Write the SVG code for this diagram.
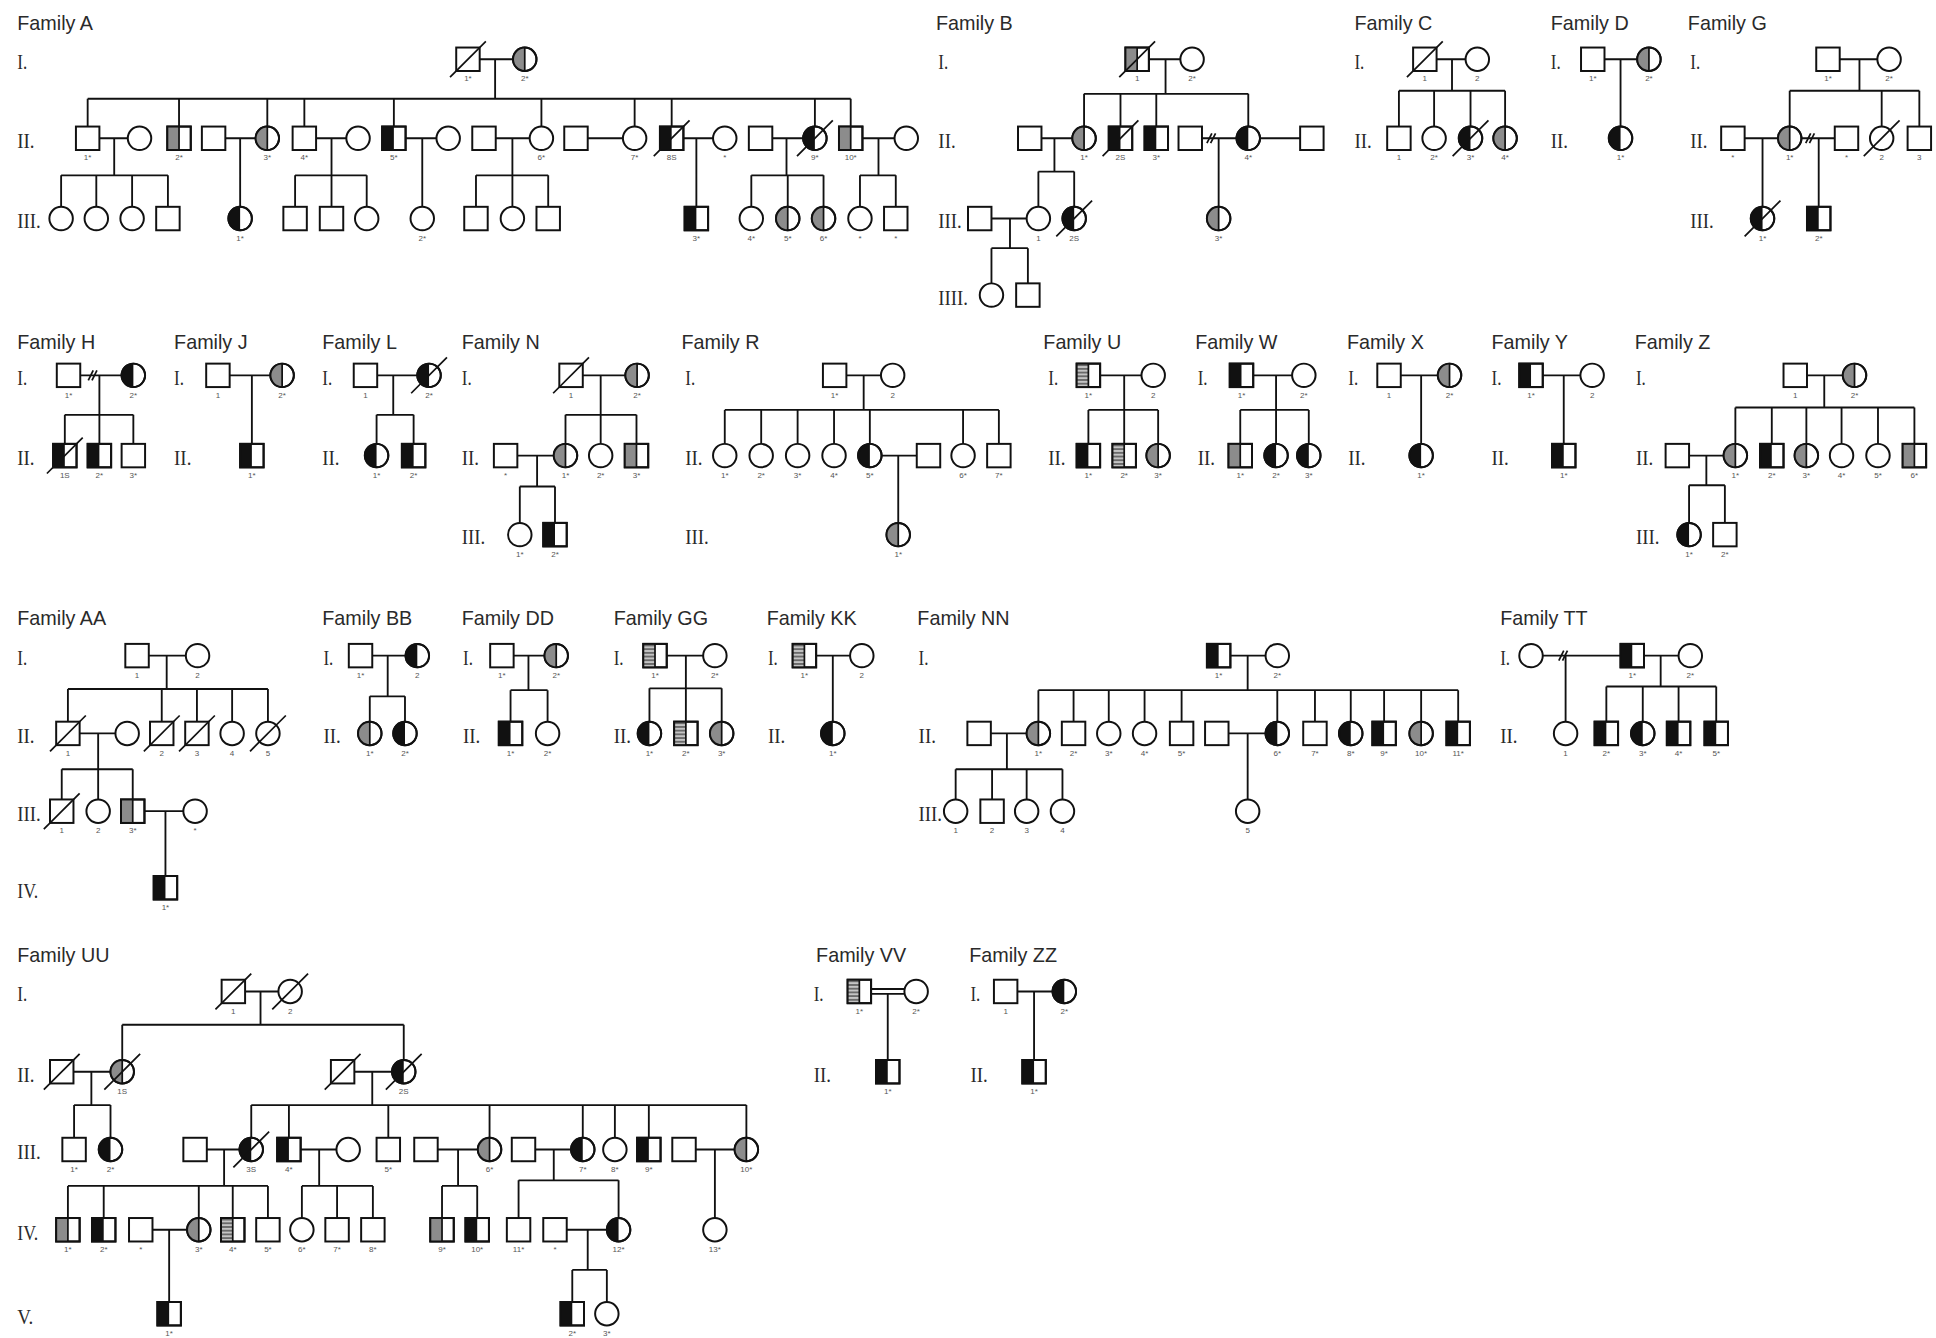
<svg xmlns="http://www.w3.org/2000/svg" xmlns:xlink="http://www.w3.org/1999/xlink" width="1936" height="1338" viewBox="0 0 1936 1338">
<style>
.o{fill:#fff;stroke:#111;stroke-width:1.6}
.f{fill:none;stroke:#111;stroke-width:1.6}
.k{fill:#111}
.g{fill:#8c8c8c}
.s{fill:url(#st)}
.c{fill:none;stroke:#111;stroke-width:1.5}
.d{stroke:#111;stroke-width:1.4;fill:none}
.t{font-family:"Liberation Sans",Arial,sans-serif;font-size:16px;fill:#2a2a2a}
.r{font-family:"Liberation Serif","Times New Roman",serif;font-size:17px;fill:#2a2a2a}
.n{font-family:"Liberation Sans",Arial,sans-serif;font-size:6.5px;fill:#555;text-anchor:middle}
</style>
<defs>
<pattern id="st" width="4" height="3" patternUnits="userSpaceOnUse"><rect width="4" height="3" fill="#c4c4c4"/><rect width="4" height="1.5" fill="#6a6a6a"/></pattern>
<g id="sW"><rect x="-9.5" y="-9.5" width="19" height="19" class="o"/></g>
<g id="sB"><rect x="-9.5" y="-9.5" width="19" height="19" class="o"/><rect x="-9.5" y="-9.5" width="9.5" height="19" class="k"/><rect x="-9.5" y="-9.5" width="19" height="19" class="f"/></g>
<g id="sG"><rect x="-9.5" y="-9.5" width="19" height="19" class="o"/><rect x="-9.5" y="-9.5" width="9.5" height="19" class="g"/><line x1="0" y1="-9.5" x2="0" y2="9.5" class="d"/><rect x="-9.5" y="-9.5" width="19" height="19" class="f"/></g>
<g id="sS"><rect x="-9.5" y="-9.5" width="19" height="19" class="o"/><rect x="-9.5" y="-9.5" width="9.5" height="19" class="s"/><line x1="0" y1="-9.5" x2="0" y2="9.5" class="d"/><rect x="-9.5" y="-9.5" width="19" height="19" class="f"/></g>
<g id="cW"><circle r="9.5" class="o"/></g>
<g id="cB"><circle r="9.5" class="o"/><path d="M0,-9.5A9.5,9.5 0 0 0 0,9.5Z" class="k"/><circle r="9.5" class="f"/></g>
<g id="cG"><circle r="9.5" class="o"/><path d="M0,-9.5A9.5,9.5 0 0 0 0,9.5Z" class="g"/><line x1="0" y1="-9.5" x2="0" y2="9.5" class="d"/><circle r="9.5" class="f"/></g>
<line id="x" x1="-14.5" y1="14.5" x2="14.5" y2="-14.5" class="d"/>
<g id="dv"><line x1="-3.5" y1="4" x2="0.5" y2="-4" class="d"/><line x1="-0.5" y1="4" x2="3.5" y2="-4" class="d"/></g>
</defs>
<rect width="1936" height="1338" fill="#fff"/>
<g transform="scale(1.2347)">
<g id="titles">
<text class="t" x="14" y="24">Family A</text>
<text class="t" x="758" y="24">Family B</text>
<text class="t" x="1097" y="24">Family C</text>
<text class="t" x="1256" y="24">Family D</text>
<text class="t" x="1367" y="24">Family G</text>
<text class="t" x="14" y="283">Family H</text>
<text class="t" x="141" y="283">Family J</text>
<text class="t" x="261" y="283">Family L</text>
<text class="t" x="374" y="283">Family N</text>
<text class="t" x="552" y="283">Family R</text>
<text class="t" x="845" y="283">Family U</text>
<text class="t" x="968" y="283">Family W</text>
<text class="t" x="1091" y="283">Family X</text>
<text class="t" x="1208" y="283">Family Y</text>
<text class="t" x="1324" y="283">Family Z</text>
<text class="t" x="14" y="506">Family AA</text>
<text class="t" x="261" y="506">Family BB</text>
<text class="t" x="374" y="506">Family DD</text>
<text class="t" x="497" y="506">Family GG</text>
<text class="t" x="621" y="506">Family KK</text>
<text class="t" x="743" y="506">Family NN</text>
<text class="t" x="1215" y="506">Family TT</text>
<text class="t" x="14" y="779">Family UU</text>
<text class="t" x="661" y="779">Family VV</text>
<text class="t" x="785" y="779">Family ZZ</text>
</g>
<g id="generations">
<text class="r" x="14" y="56" textLength="8" lengthAdjust="spacingAndGlyphs">I.</text>
<text class="r" x="14" y="120" textLength="14" lengthAdjust="spacingAndGlyphs">II.</text>
<text class="r" x="14" y="185" textLength="19" lengthAdjust="spacingAndGlyphs">III.</text>
<text class="r" x="760" y="56" textLength="8" lengthAdjust="spacingAndGlyphs">I.</text>
<text class="r" x="760" y="120" textLength="14" lengthAdjust="spacingAndGlyphs">II.</text>
<text class="r" x="760" y="185" textLength="19" lengthAdjust="spacingAndGlyphs">III.</text>
<text class="r" x="760" y="247" textLength="24" lengthAdjust="spacingAndGlyphs">IIII.</text>
<text class="r" x="1097" y="56" textLength="8" lengthAdjust="spacingAndGlyphs">I.</text>
<text class="r" x="1097" y="120" textLength="14" lengthAdjust="spacingAndGlyphs">II.</text>
<text class="r" x="1256" y="56" textLength="8" lengthAdjust="spacingAndGlyphs">I.</text>
<text class="r" x="1256" y="120" textLength="14" lengthAdjust="spacingAndGlyphs">II.</text>
<text class="r" x="1369" y="56" textLength="8" lengthAdjust="spacingAndGlyphs">I.</text>
<text class="r" x="1369" y="120" textLength="14" lengthAdjust="spacingAndGlyphs">II.</text>
<text class="r" x="1369" y="185" textLength="19" lengthAdjust="spacingAndGlyphs">III.</text>
<text class="r" x="14" y="312" textLength="8" lengthAdjust="spacingAndGlyphs">I.</text>
<text class="r" x="14" y="377" textLength="14" lengthAdjust="spacingAndGlyphs">II.</text>
<text class="r" x="141" y="312" textLength="8" lengthAdjust="spacingAndGlyphs">I.</text>
<text class="r" x="141" y="377" textLength="14" lengthAdjust="spacingAndGlyphs">II.</text>
<text class="r" x="261" y="312" textLength="8" lengthAdjust="spacingAndGlyphs">I.</text>
<text class="r" x="261" y="377" textLength="14" lengthAdjust="spacingAndGlyphs">II.</text>
<text class="r" x="374" y="312" textLength="8" lengthAdjust="spacingAndGlyphs">I.</text>
<text class="r" x="374" y="377" textLength="14" lengthAdjust="spacingAndGlyphs">II.</text>
<text class="r" x="374" y="441" textLength="19" lengthAdjust="spacingAndGlyphs">III.</text>
<text class="r" x="555" y="312" textLength="8" lengthAdjust="spacingAndGlyphs">I.</text>
<text class="r" x="555" y="377" textLength="14" lengthAdjust="spacingAndGlyphs">II.</text>
<text class="r" x="555" y="441" textLength="19" lengthAdjust="spacingAndGlyphs">III.</text>
<text class="r" x="849" y="312" textLength="8" lengthAdjust="spacingAndGlyphs">I.</text>
<text class="r" x="849" y="377" textLength="14" lengthAdjust="spacingAndGlyphs">II.</text>
<text class="r" x="970" y="312" textLength="8" lengthAdjust="spacingAndGlyphs">I.</text>
<text class="r" x="970" y="377" textLength="14" lengthAdjust="spacingAndGlyphs">II.</text>
<text class="r" x="1092" y="312" textLength="8" lengthAdjust="spacingAndGlyphs">I.</text>
<text class="r" x="1092" y="377" textLength="14" lengthAdjust="spacingAndGlyphs">II.</text>
<text class="r" x="1208" y="312" textLength="8" lengthAdjust="spacingAndGlyphs">I.</text>
<text class="r" x="1208" y="377" textLength="14" lengthAdjust="spacingAndGlyphs">II.</text>
<text class="r" x="1325" y="312" textLength="8" lengthAdjust="spacingAndGlyphs">I.</text>
<text class="r" x="1325" y="377" textLength="14" lengthAdjust="spacingAndGlyphs">II.</text>
<text class="r" x="1325" y="441" textLength="19" lengthAdjust="spacingAndGlyphs">III.</text>
<text class="r" x="14" y="539" textLength="8" lengthAdjust="spacingAndGlyphs">I.</text>
<text class="r" x="14" y="602" textLength="14" lengthAdjust="spacingAndGlyphs">II.</text>
<text class="r" x="14" y="665" textLength="19" lengthAdjust="spacingAndGlyphs">III.</text>
<text class="r" x="14" y="727" textLength="17" lengthAdjust="spacingAndGlyphs">IV.</text>
<text class="r" x="262" y="539" textLength="8" lengthAdjust="spacingAndGlyphs">I.</text>
<text class="r" x="262" y="602" textLength="14" lengthAdjust="spacingAndGlyphs">II.</text>
<text class="r" x="375" y="539" textLength="8" lengthAdjust="spacingAndGlyphs">I.</text>
<text class="r" x="375" y="602" textLength="14" lengthAdjust="spacingAndGlyphs">II.</text>
<text class="r" x="497" y="539" textLength="8" lengthAdjust="spacingAndGlyphs">I.</text>
<text class="r" x="497" y="602" textLength="14" lengthAdjust="spacingAndGlyphs">II.</text>
<text class="r" x="622" y="539" textLength="8" lengthAdjust="spacingAndGlyphs">I.</text>
<text class="r" x="622" y="602" textLength="14" lengthAdjust="spacingAndGlyphs">II.</text>
<text class="r" x="744" y="539" textLength="8" lengthAdjust="spacingAndGlyphs">I.</text>
<text class="r" x="744" y="602" textLength="14" lengthAdjust="spacingAndGlyphs">II.</text>
<text class="r" x="744" y="665" textLength="19" lengthAdjust="spacingAndGlyphs">III.</text>
<text class="r" x="1215" y="539" textLength="8" lengthAdjust="spacingAndGlyphs">I.</text>
<text class="r" x="1215" y="602" textLength="14" lengthAdjust="spacingAndGlyphs">II.</text>
<text class="r" x="14" y="811" textLength="8" lengthAdjust="spacingAndGlyphs">I.</text>
<text class="r" x="14" y="876" textLength="14" lengthAdjust="spacingAndGlyphs">II.</text>
<text class="r" x="14" y="939" textLength="19" lengthAdjust="spacingAndGlyphs">III.</text>
<text class="r" x="14" y="1004" textLength="17" lengthAdjust="spacingAndGlyphs">IV.</text>
<text class="r" x="14" y="1072" textLength="13" lengthAdjust="spacingAndGlyphs">V.</text>
<text class="r" x="659" y="811" textLength="8" lengthAdjust="spacingAndGlyphs">I.</text>
<text class="r" x="659" y="876" textLength="14" lengthAdjust="spacingAndGlyphs">II.</text>
<text class="r" x="786" y="811" textLength="8" lengthAdjust="spacingAndGlyphs">I.</text>
<text class="r" x="786" y="876" textLength="14" lengthAdjust="spacingAndGlyphs">II.</text>
</g>
<g id="connectors">
<path class="c" d="M388.5,48H415.5M401,48V80M71,80H689M71,80V102.5M145,80V102.5M216.5,80V102.5M246.5,80V102.5M319,80V102.5M438.5,80V102.5M514,80V102.5M544,80V102.5M660,80V102.5M689,80V102.5M80.5,112H103.5M92.5,112V142M49.5,142H136M49.5,142V167.5M78,142V167.5M107,142V167.5M136,142V167.5M182.5,112H207M194.5,112V167.5M256,112H280.5M268.5,112V142M239,142H297M239,142V167.5M268.5,142V167.5M297,142V167.5M328.5,112H353.5M342,112V167.5M401.5,112H429M415,112V142M385.5,142H444M385.5,142V167.5M415,142V167.5M444,142V167.5M476,112H504.5M553.5,112H577.5M564,112V167.5M625.5,112H650.5M637,112V142M608.5,142H667M608.5,142V167.5M638,142V167.5M667,142V167.5M698.5,112H724.5M711.5,112V142M696.5,142H725.5M696.5,142V167.5M725.5,142V167.5"/>
<path class="c" d="M930.5,48H956M944,48V76M878,76H1011M878,76V102.5M907.5,76V102.5M936.5,76V102.5M1011,76V102.5M843.5,112H868.5M854,112V139M841,139H870M841,139V167.5M870,139V167.5M973.5,112H1001.5M987,112V167.5M1020.5,112H1053M803,177H831.5M818,177V201M803,201H832.5M803,201V229.5M832.5,201V229.5"/>
<path class="c" d="M1163.5,48H1187M1176,48V73.5M1133,73.5H1219M1133,73.5V102.5M1161.5,73.5V102.5M1191,73.5V102.5M1219,73.5V102.5"/>
<path class="c" d="M1299.5,48H1326M1312.5,48V102.5"/>
<path class="c" d="M1490,48H1520.5M1506,48V73.5M1449.5,73.5H1554.5M1449.5,73.5V102.5M1524,73.5V102.5M1554.5,73.5V102.5M1413,112H1440M1427.5,112V167.5M1459,112H1486M1473,112V167.5"/>
<path class="c" d="M65,304H98.5M80.5,304V359.5M52.5,336H108M52.5,336V359.5M108,336V359.5"/>
<path class="c" d="M186,304H219M204,304V359.5"/>
<path class="c" d="M305.5,304H338M318.5,304V336M305,336H335M305,336V359.5M335,336V359.5"/>
<path class="c" d="M472,304H506.5M486.5,304V336M458,336H515.5M458,336V359.5M486.5,336V359.5M515.5,336V359.5M419,369H448.5M435,369V394M421,394H449.5M421,394V423.5M449.5,394V423.5"/>
<path class="c" d="M685.5,304H713.5M699.5,304V332M587,332H809M587,332V359.5M616.5,332V359.5M646,332V359.5M675.5,332V359.5M704.5,332V359.5M780,332V359.5M809,332V359.5M714,369H742.5M727.5,369V423.5"/>
<path class="c" d="M891,304H924.5M910.5,304V359.5M881.5,332H938M881.5,332V359.5M938,332V359.5"/>
<path class="c" d="M1015,304H1046.5M1033.5,304V359.5M1004.5,332H1060M1004.5,332V359.5M1060,332V359.5"/>
<path class="c" d="M1134.5,304H1164.5M1151,304V359.5"/>
<path class="c" d="M1249.5,304H1280M1266.5,304V359.5"/>
<path class="c" d="M1463.5,304H1492.5M1477.5,304V330M1405.5,330H1550.5M1405.5,330V359.5M1435,330V359.5M1463,330V359.5M1491.5,330V359.5M1521,330V359.5M1550.5,330V359.5M1368,369H1396M1382,369V393M1368,393H1397M1368,393V423.5M1397,393V423.5"/>
<path class="c" d="M120.5,531H150.5M135,531V558M55,558H217M55,558V584.5M131,558V584.5M159.5,558V584.5M188,558V584.5M217,558V584.5M64.5,594H93.5M79.5,594V623M50,623H107.5M50,623V647.5M79.5,623V647.5M107.5,623V647.5M117,657H148.5M134,657V709.5"/>
<path class="c" d="M301.5,531H328.5M314,531V564M299.5,564H328M299.5,564V584.5M328,564V584.5"/>
<path class="c" d="M416,531H441M428,531V559M413.5,559H443.5M413.5,559V584.5M443.5,559V584.5"/>
<path class="c" d="M540,531H569.5M555.5,531V584.5M526,557.5H584.5M526,557.5V584.5M584.5,557.5V584.5"/>
<path class="c" d="M661,531H688.5M674.5,531V584.5"/>
<path class="c" d="M996.5,531H1025M1010.5,531V559M841,559H1181M841,559V584.5M869.5,559V584.5M898,559V584.5M927,559V584.5M957,559V584.5M1034.5,559V584.5M1065,559V584.5M1094,559V584.5M1121,559V584.5M1151,559V584.5M1181,559V584.5M802.5,594H831.5M815.5,594V623M774,623H860.5M774,623V647.5M803.5,623V647.5M831.5,623V647.5M860.5,623V647.5M995,594H1025M1010.5,594V647.5"/>
<path class="c" d="M1249.5,531H1312.5M1268,531V584.5M1331.5,531H1359.5M1345,531V556M1301,556H1390M1301,556V584.5M1330.5,556V584.5M1359.5,556V584.5M1390,556V584.5"/>
<path class="c" d="M198.5,803H225.5M211,803V830M99,830H327M99,830V858.5M327,830V858.5M59.5,868H89.5M74,868V895M60,895H89.5M60,895V921.5M89.5,895V921.5M287,868H317.5M301.5,868V895M203.5,895H604.5M203.5,895V921.5M234,895V921.5M314.5,895V921.5M396.5,895V921.5M472,895V921.5M498,895V921.5M525.5,895V921.5M604.5,895V921.5M167.5,931H194M181.5,931V960.5M55,960.5H217M55,960.5V986.5M84,960.5V986.5M161,960.5V986.5M188.5,960.5V986.5M217,960.5V986.5M243.5,931H272.5M258.5,931V960.5M244.5,960.5H302M244.5,960.5V986.5M273,960.5V986.5M302,960.5V986.5M354.5,931H387M371,931V960.5M358,960.5H386.5M358,960.5V986.5M386.5,960.5V986.5M433.5,931H462.5M448.5,931V956M420,956H501M420,956V986.5M501,956V986.5M563.5,931H595M579,931V986.5M123.5,996H151.5M137,996V1054.5M459,996H491.5M476,996V1028.5M463.5,1028.5H491.5M463.5,1028.5V1054.5M491.5,1028.5V1054.5"/>
<path class="c" d="M705.5,801H732.5M705.5,805H732.5M719,805V858.5"/>
<path class="c" d="M824,803H852.5M837.5,803V858.5"/>
<use href="#dv" x="981" y="112"/>
<use href="#dv" x="1466" y="112"/>
<use href="#dv" x="75" y="304"/>
<use href="#dv" x="1266" y="531"/>
</g>
<g id="family-A">
<g id="A-I-1"><use href="#sW" x="379" y="48"/><use href="#x" x="379" y="48"/><text class="n" x="379" y="66">1*</text></g>
<g id="A-I-2"><use href="#cG" x="425" y="48"/><text class="n" x="425" y="66">2*</text></g>
<g id="A-II-1"><use href="#sW" x="71" y="112"/><text class="n" x="71" y="130">1*</text></g>
<g id="A-II-1s"><use href="#cW" x="113" y="112"/></g>
<g id="A-II-2"><use href="#sG" x="145" y="112"/><text class="n" x="145" y="130">2*</text></g>
<g id="A-II-3s"><use href="#sW" x="173" y="112"/></g>
<g id="A-II-3"><use href="#cG" x="216.5" y="112"/><text class="n" x="216.5" y="130">3*</text></g>
<g id="A-II-4"><use href="#sW" x="246.5" y="112"/><text class="n" x="246.5" y="130">4*</text></g>
<g id="A-II-4s"><use href="#cW" x="290" y="112"/></g>
<g id="A-II-5"><use href="#sB" x="319" y="112"/><text class="n" x="319" y="130">5*</text></g>
<g id="A-II-5s"><use href="#cW" x="363" y="112"/></g>
<g id="A-II-6s"><use href="#sW" x="392" y="112"/></g>
<g id="A-II-6"><use href="#cW" x="438.5" y="112"/><text class="n" x="438.5" y="130">6*</text></g>
<g id="A-II-7s"><use href="#sW" x="466.5" y="112"/></g>
<g id="A-II-7"><use href="#cW" x="514" y="112"/><text class="n" x="514" y="130">7*</text></g>
<g id="A-II-8"><use href="#sB" x="544" y="112"/><use href="#x" x="544" y="112"/><text class="n" x="544" y="130">8S</text></g>
<g id="A-II-8s"><use href="#cW" x="587" y="112"/><text class="n" x="587" y="130">*</text></g>
<g id="A-II-9s"><use href="#sW" x="616" y="112"/></g>
<g id="A-II-9"><use href="#cB" x="660" y="112"/><use href="#x" x="660" y="112"/><text class="n" x="660" y="130">9*</text></g>
<g id="A-II-10"><use href="#sG" x="689" y="112"/><text class="n" x="689" y="130">10*</text></g>
<g id="A-II-10s"><use href="#cW" x="734" y="112"/></g>
<g id="A-III-a"><use href="#cW" x="49.5" y="177"/></g>
<g id="A-III-b"><use href="#cW" x="78" y="177"/></g>
<g id="A-III-c"><use href="#cW" x="107" y="177"/></g>
<g id="A-III-d"><use href="#sW" x="136" y="177"/></g>
<g id="A-III-1"><use href="#cB" x="194.5" y="177"/><text class="n" x="194.5" y="195">1*</text></g>
<g id="A-III-e"><use href="#sW" x="239" y="177"/></g>
<g id="A-III-f"><use href="#sW" x="268.5" y="177"/></g>
<g id="A-III-g"><use href="#cW" x="297" y="177"/></g>
<g id="A-III-2"><use href="#cW" x="342" y="177"/><text class="n" x="342" y="195">2*</text></g>
<g id="A-III-h"><use href="#sW" x="385.5" y="177"/></g>
<g id="A-III-i"><use href="#cW" x="415" y="177"/></g>
<g id="A-III-j"><use href="#sW" x="444" y="177"/></g>
<g id="A-III-3"><use href="#sB" x="564" y="177"/><text class="n" x="564" y="195">3*</text></g>
<g id="A-III-4"><use href="#cW" x="608.5" y="177"/><text class="n" x="608.5" y="195">4*</text></g>
<g id="A-III-5"><use href="#cG" x="638" y="177"/><text class="n" x="638" y="195">5*</text></g>
<g id="A-III-6"><use href="#cG" x="667" y="177"/><text class="n" x="667" y="195">6*</text></g>
<g id="A-III-k"><use href="#cW" x="696.5" y="177"/><text class="n" x="696.5" y="195">*</text></g>
<g id="A-III-l"><use href="#sW" x="725.5" y="177"/><text class="n" x="725.5" y="195">*</text></g>
</g>
<g id="family-B">
<g id="B-I-1"><use href="#sG" x="921" y="48"/><use href="#x" x="921" y="48"/><text class="n" x="921" y="66">1</text></g>
<g id="B-I-2"><use href="#cW" x="965.5" y="48"/><text class="n" x="965.5" y="66">2*</text></g>
<g id="B-II-1s"><use href="#sW" x="834" y="112"/></g>
<g id="B-II-1"><use href="#cG" x="878" y="112"/><text class="n" x="878" y="130">1*</text></g>
<g id="B-II-2"><use href="#sB" x="907.5" y="112"/><use href="#x" x="907.5" y="112"/><text class="n" x="907.5" y="130">2S</text></g>
<g id="B-II-3"><use href="#sB" x="936.5" y="112"/><text class="n" x="936.5" y="130">3*</text></g>
<g id="B-II-4a"><use href="#sW" x="964" y="112"/></g>
<g id="B-II-4"><use href="#cB" x="1011" y="112"/><text class="n" x="1011" y="130">4*</text></g>
<g id="B-II-4b"><use href="#sW" x="1062.5" y="112"/></g>
<g id="B-III-1s"><use href="#sW" x="793.5" y="177"/></g>
<g id="B-III-1"><use href="#cW" x="841" y="177"/><text class="n" x="841" y="195">1</text></g>
<g id="B-III-2"><use href="#cB" x="870" y="177"/><use href="#x" x="870" y="177"/><text class="n" x="870" y="195">2S</text></g>
<g id="B-III-3"><use href="#cG" x="987" y="177"/><text class="n" x="987" y="195">3*</text></g>
<g id="B-IIII-1"><use href="#cW" x="803" y="239"/></g>
<g id="B-IIII-2"><use href="#sW" x="832.5" y="239"/></g>
</g>
<g id="family-C">
<g id="C-I-1"><use href="#sW" x="1154" y="48"/><use href="#x" x="1154" y="48"/><text class="n" x="1154" y="66">1</text></g>
<g id="C-I-2"><use href="#cW" x="1196.5" y="48"/><text class="n" x="1196.5" y="66">2</text></g>
<g id="C-II-1"><use href="#sW" x="1133" y="112"/><text class="n" x="1133" y="130">1</text></g>
<g id="C-II-2"><use href="#cW" x="1161.5" y="112"/><text class="n" x="1161.5" y="130">2*</text></g>
<g id="C-II-3"><use href="#cB" x="1191" y="112"/><use href="#x" x="1191" y="112"/><text class="n" x="1191" y="130">3*</text></g>
<g id="C-II-4"><use href="#cG" x="1219" y="112"/><text class="n" x="1219" y="130">4*</text></g>
</g>
<g id="family-D">
<g id="D-I-1"><use href="#sW" x="1290" y="48"/><text class="n" x="1290" y="66">1*</text></g>
<g id="D-I-2"><use href="#cG" x="1335.5" y="48"/><text class="n" x="1335.5" y="66">2*</text></g>
<g id="D-II-1"><use href="#cB" x="1312.5" y="112"/><text class="n" x="1312.5" y="130">1*</text></g>
</g>
<g id="family-G">
<g id="G-I-1"><use href="#sW" x="1480.5" y="48"/><text class="n" x="1480.5" y="66">1*</text></g>
<g id="G-I-2"><use href="#cW" x="1530" y="48"/><text class="n" x="1530" y="66">2*</text></g>
<g id="G-II-1a"><use href="#sW" x="1403.5" y="112"/><text class="n" x="1403.5" y="130">*</text></g>
<g id="G-II-1"><use href="#cG" x="1449.5" y="112"/><text class="n" x="1449.5" y="130">1*</text></g>
<g id="G-II-1b"><use href="#sW" x="1495.5" y="112"/><text class="n" x="1495.5" y="130">*</text></g>
<g id="G-II-2"><use href="#cW" x="1524" y="112"/><use href="#x" x="1524" y="112"/><text class="n" x="1524" y="130">2</text></g>
<g id="G-II-3"><use href="#sW" x="1554.5" y="112"/><text class="n" x="1554.5" y="130">3</text></g>
<g id="G-III-1"><use href="#cB" x="1427.5" y="177"/><use href="#x" x="1427.5" y="177"/><text class="n" x="1427.5" y="195">1*</text></g>
<g id="G-III-2"><use href="#sB" x="1473" y="177"/><text class="n" x="1473" y="195">2*</text></g>
</g>
<g id="family-H">
<g id="H-I-1"><use href="#sW" x="55.5" y="304"/><text class="n" x="55.5" y="322">1*</text></g>
<g id="H-I-2"><use href="#cB" x="108" y="304"/><text class="n" x="108" y="322">2*</text></g>
<g id="H-II-1"><use href="#sB" x="52.5" y="369"/><use href="#x" x="52.5" y="369"/><text class="n" x="52.5" y="387">1S</text></g>
<g id="H-II-2"><use href="#sB" x="80.5" y="369"/><text class="n" x="80.5" y="387">2*</text></g>
<g id="H-II-3"><use href="#sW" x="108" y="369"/><text class="n" x="108" y="387">3*</text></g>
</g>
<g id="family-J">
<g id="J-I-1"><use href="#sW" x="176.5" y="304"/><text class="n" x="176.5" y="322">1</text></g>
<g id="J-I-2"><use href="#cG" x="228.5" y="304"/><text class="n" x="228.5" y="322">2*</text></g>
<g id="J-II-1"><use href="#sB" x="204" y="369"/><text class="n" x="204" y="387">1*</text></g>
</g>
<g id="family-L">
<g id="L-I-1"><use href="#sW" x="296" y="304"/><text class="n" x="296" y="322">1</text></g>
<g id="L-I-2"><use href="#cB" x="347.5" y="304"/><use href="#x" x="347.5" y="304"/><text class="n" x="347.5" y="322">2*</text></g>
<g id="L-II-1"><use href="#cB" x="305" y="369"/><text class="n" x="305" y="387">1*</text></g>
<g id="L-II-2"><use href="#sB" x="335" y="369"/><text class="n" x="335" y="387">2*</text></g>
</g>
<g id="family-N">
<g id="N-I-1"><use href="#sW" x="462.5" y="304"/><use href="#x" x="462.5" y="304"/><text class="n" x="462.5" y="322">1</text></g>
<g id="N-I-2"><use href="#cG" x="516" y="304"/><text class="n" x="516" y="322">2*</text></g>
<g id="N-II-1s"><use href="#sW" x="409.5" y="369"/><text class="n" x="409.5" y="387">*</text></g>
<g id="N-II-1"><use href="#cG" x="458" y="369"/><text class="n" x="458" y="387">1*</text></g>
<g id="N-II-2"><use href="#cW" x="486.5" y="369"/><text class="n" x="486.5" y="387">2*</text></g>
<g id="N-II-3"><use href="#sG" x="515.5" y="369"/><text class="n" x="515.5" y="387">3*</text></g>
<g id="N-III-1"><use href="#cW" x="421" y="433"/><text class="n" x="421" y="451">1*</text></g>
<g id="N-III-2"><use href="#sB" x="449.5" y="433"/><text class="n" x="449.5" y="451">2*</text></g>
</g>
<g id="family-R">
<g id="R-I-1"><use href="#sW" x="676" y="304"/><text class="n" x="676" y="322">1*</text></g>
<g id="R-I-2"><use href="#cW" x="723" y="304"/><text class="n" x="723" y="322">2</text></g>
<g id="R-II-1"><use href="#cW" x="587" y="369"/><text class="n" x="587" y="387">1*</text></g>
<g id="R-II-2"><use href="#cW" x="616.5" y="369"/><text class="n" x="616.5" y="387">2*</text></g>
<g id="R-II-3"><use href="#cW" x="646" y="369"/><text class="n" x="646" y="387">3*</text></g>
<g id="R-II-4"><use href="#cW" x="675.5" y="369"/><text class="n" x="675.5" y="387">4*</text></g>
<g id="R-II-5"><use href="#cB" x="704.5" y="369"/><text class="n" x="704.5" y="387">5*</text></g>
<g id="R-II-5s"><use href="#sW" x="752" y="369"/></g>
<g id="R-II-6"><use href="#cW" x="780" y="369"/><text class="n" x="780" y="387">6*</text></g>
<g id="R-II-7"><use href="#sW" x="809" y="369"/><text class="n" x="809" y="387">7*</text></g>
<g id="R-III-1"><use href="#cG" x="727.5" y="433"/><text class="n" x="727.5" y="451">1*</text></g>
</g>
<g id="family-U">
<g id="U-I-1"><use href="#sS" x="881.5" y="304"/><text class="n" x="881.5" y="322">1*</text></g>
<g id="U-I-2"><use href="#cW" x="934" y="304"/><text class="n" x="934" y="322">2</text></g>
<g id="U-II-1"><use href="#sB" x="881.5" y="369"/><text class="n" x="881.5" y="387">1*</text></g>
<g id="U-II-2"><use href="#sS" x="910.5" y="369"/><text class="n" x="910.5" y="387">2*</text></g>
<g id="U-II-3"><use href="#cG" x="938" y="369"/><text class="n" x="938" y="387">3*</text></g>
</g>
<g id="family-W">
<g id="W-I-1"><use href="#sB" x="1005.5" y="304"/><text class="n" x="1005.5" y="322">1*</text></g>
<g id="W-I-2"><use href="#cW" x="1056" y="304"/><text class="n" x="1056" y="322">2*</text></g>
<g id="W-II-1"><use href="#sG" x="1004.5" y="369"/><text class="n" x="1004.5" y="387">1*</text></g>
<g id="W-II-2"><use href="#cB" x="1033.5" y="369"/><text class="n" x="1033.5" y="387">2*</text></g>
<g id="W-II-3"><use href="#cB" x="1060" y="369"/><text class="n" x="1060" y="387">3*</text></g>
</g>
<g id="family-X">
<g id="X-I-1"><use href="#sW" x="1125" y="304"/><text class="n" x="1125" y="322">1</text></g>
<g id="X-I-2"><use href="#cG" x="1174" y="304"/><text class="n" x="1174" y="322">2*</text></g>
<g id="X-II-1"><use href="#cB" x="1151" y="369"/><text class="n" x="1151" y="387">1*</text></g>
</g>
<g id="family-Y">
<g id="Y-I-1"><use href="#sB" x="1240" y="304"/><text class="n" x="1240" y="322">1*</text></g>
<g id="Y-I-2"><use href="#cW" x="1289.5" y="304"/><text class="n" x="1289.5" y="322">2</text></g>
<g id="Y-II-1"><use href="#sB" x="1266.5" y="369"/><text class="n" x="1266.5" y="387">1*</text></g>
</g>
<g id="family-Z">
<g id="Z-I-1"><use href="#sW" x="1454" y="304"/><text class="n" x="1454" y="322">1</text></g>
<g id="Z-I-2"><use href="#cG" x="1502" y="304"/><text class="n" x="1502" y="322">2*</text></g>
<g id="Z-II-1s"><use href="#sW" x="1358.5" y="369"/></g>
<g id="Z-II-1"><use href="#cG" x="1405.5" y="369"/><text class="n" x="1405.5" y="387">1*</text></g>
<g id="Z-II-2"><use href="#sB" x="1435" y="369"/><text class="n" x="1435" y="387">2*</text></g>
<g id="Z-II-3"><use href="#cG" x="1463" y="369"/><text class="n" x="1463" y="387">3*</text></g>
<g id="Z-II-4"><use href="#cW" x="1491.5" y="369"/><text class="n" x="1491.5" y="387">4*</text></g>
<g id="Z-II-5"><use href="#cW" x="1521" y="369"/><text class="n" x="1521" y="387">5*</text></g>
<g id="Z-II-6"><use href="#sG" x="1550.5" y="369"/><text class="n" x="1550.5" y="387">6*</text></g>
<g id="Z-III-1"><use href="#cB" x="1368" y="433"/><text class="n" x="1368" y="451">1*</text></g>
<g id="Z-III-2"><use href="#sW" x="1397" y="433"/><text class="n" x="1397" y="451">2*</text></g>
</g>
<g id="family-AA">
<g id="AA-I-1"><use href="#sW" x="111" y="531"/><text class="n" x="111" y="549">1</text></g>
<g id="AA-I-2"><use href="#cW" x="160" y="531"/><text class="n" x="160" y="549">2</text></g>
<g id="AA-II-1"><use href="#sW" x="55" y="594"/><use href="#x" x="55" y="594"/><text class="n" x="55" y="612">1</text></g>
<g id="AA-II-1s"><use href="#cW" x="103" y="594"/></g>
<g id="AA-II-2"><use href="#sW" x="131" y="594"/><use href="#x" x="131" y="594"/><text class="n" x="131" y="612">2</text></g>
<g id="AA-II-3"><use href="#sW" x="159.5" y="594"/><use href="#x" x="159.5" y="594"/><text class="n" x="159.5" y="612">3</text></g>
<g id="AA-II-4"><use href="#cW" x="188" y="594"/><text class="n" x="188" y="612">4</text></g>
<g id="AA-II-5"><use href="#cW" x="217" y="594"/><use href="#x" x="217" y="594"/><text class="n" x="217" y="612">5</text></g>
<g id="AA-III-1"><use href="#sW" x="50" y="657"/><use href="#x" x="50" y="657"/><text class="n" x="50" y="675">1</text></g>
<g id="AA-III-2"><use href="#cW" x="79.5" y="657"/><text class="n" x="79.5" y="675">2</text></g>
<g id="AA-III-3"><use href="#sG" x="107.5" y="657"/><text class="n" x="107.5" y="675">3*</text></g>
<g id="AA-III-3s"><use href="#cW" x="158" y="657"/><text class="n" x="158" y="675">*</text></g>
<g id="AA-IV-1"><use href="#sB" x="134" y="719"/><text class="n" x="134" y="737">1*</text></g>
</g>
<g id="family-BB">
<g id="BB-I-1"><use href="#sW" x="292" y="531"/><text class="n" x="292" y="549">1*</text></g>
<g id="BB-I-2"><use href="#cB" x="338" y="531"/><text class="n" x="338" y="549">2</text></g>
<g id="BB-II-1"><use href="#cG" x="299.5" y="594"/><text class="n" x="299.5" y="612">1*</text></g>
<g id="BB-II-2"><use href="#cB" x="328" y="594"/><text class="n" x="328" y="612">2*</text></g>
</g>
<g id="family-DD">
<g id="DD-I-1"><use href="#sW" x="406.5" y="531"/><text class="n" x="406.5" y="549">1*</text></g>
<g id="DD-I-2"><use href="#cG" x="450.5" y="531"/><text class="n" x="450.5" y="549">2*</text></g>
<g id="DD-II-1"><use href="#sB" x="413.5" y="594"/><text class="n" x="413.5" y="612">1*</text></g>
<g id="DD-II-2"><use href="#cW" x="443.5" y="594"/><text class="n" x="443.5" y="612">2*</text></g>
</g>
<g id="family-GG">
<g id="GG-I-1"><use href="#sS" x="530.5" y="531"/><text class="n" x="530.5" y="549">1*</text></g>
<g id="GG-I-2"><use href="#cW" x="579" y="531"/><text class="n" x="579" y="549">2*</text></g>
<g id="GG-II-1"><use href="#cB" x="526" y="594"/><text class="n" x="526" y="612">1*</text></g>
<g id="GG-II-2"><use href="#sS" x="555.5" y="594"/><text class="n" x="555.5" y="612">2*</text></g>
<g id="GG-II-3"><use href="#cG" x="584.5" y="594"/><text class="n" x="584.5" y="612">3*</text></g>
</g>
<g id="family-KK">
<g id="KK-I-1"><use href="#sS" x="651.5" y="531"/><text class="n" x="651.5" y="549">1*</text></g>
<g id="KK-I-2"><use href="#cW" x="698" y="531"/><text class="n" x="698" y="549">2</text></g>
<g id="KK-II-1"><use href="#cB" x="674.5" y="594"/><text class="n" x="674.5" y="612">1*</text></g>
</g>
<g id="family-NN">
<g id="NN-I-1"><use href="#sB" x="987" y="531"/><text class="n" x="987" y="549">1*</text></g>
<g id="NN-I-2"><use href="#cW" x="1034.5" y="531"/><text class="n" x="1034.5" y="549">2*</text></g>
<g id="NN-II-1s"><use href="#sW" x="793" y="594"/></g>
<g id="NN-II-1"><use href="#cG" x="841" y="594"/><text class="n" x="841" y="612">1*</text></g>
<g id="NN-II-2"><use href="#sW" x="869.5" y="594"/><text class="n" x="869.5" y="612">2*</text></g>
<g id="NN-II-3"><use href="#cW" x="898" y="594"/><text class="n" x="898" y="612">3*</text></g>
<g id="NN-II-4"><use href="#cW" x="927" y="594"/><text class="n" x="927" y="612">4*</text></g>
<g id="NN-II-5"><use href="#sW" x="957" y="594"/><text class="n" x="957" y="612">5*</text></g>
<g id="NN-II-6s"><use href="#sW" x="985.5" y="594"/></g>
<g id="NN-II-6"><use href="#cB" x="1034.5" y="594"/><text class="n" x="1034.5" y="612">6*</text></g>
<g id="NN-II-7"><use href="#sW" x="1065" y="594"/><text class="n" x="1065" y="612">7*</text></g>
<g id="NN-II-8"><use href="#cB" x="1094" y="594"/><text class="n" x="1094" y="612">8*</text></g>
<g id="NN-II-9"><use href="#sB" x="1121" y="594"/><text class="n" x="1121" y="612">9*</text></g>
<g id="NN-II-10"><use href="#cG" x="1151" y="594"/><text class="n" x="1151" y="612">10*</text></g>
<g id="NN-II-11"><use href="#sB" x="1181" y="594"/><text class="n" x="1181" y="612">11*</text></g>
<g id="NN-III-1"><use href="#cW" x="774" y="657"/><text class="n" x="774" y="675">1</text></g>
<g id="NN-III-2"><use href="#sW" x="803.5" y="657"/><text class="n" x="803.5" y="675">2</text></g>
<g id="NN-III-3"><use href="#cW" x="831.5" y="657"/><text class="n" x="831.5" y="675">3</text></g>
<g id="NN-III-4"><use href="#cW" x="860.5" y="657"/><text class="n" x="860.5" y="675">4</text></g>
<g id="NN-III-5"><use href="#cW" x="1010.5" y="657"/><text class="n" x="1010.5" y="675">5</text></g>
</g>
<g id="family-TT">
<g id="TT-I-0"><use href="#cW" x="1240" y="531"/></g>
<g id="TT-I-1"><use href="#sB" x="1322" y="531"/><text class="n" x="1322" y="549">1*</text></g>
<g id="TT-I-2"><use href="#cW" x="1369" y="531"/><text class="n" x="1369" y="549">2*</text></g>
<g id="TT-II-1"><use href="#cW" x="1268" y="594"/><text class="n" x="1268" y="612">1</text></g>
<g id="TT-II-2"><use href="#sB" x="1301" y="594"/><text class="n" x="1301" y="612">2*</text></g>
<g id="TT-II-3"><use href="#cB" x="1330.5" y="594"/><text class="n" x="1330.5" y="612">3*</text></g>
<g id="TT-II-4"><use href="#sB" x="1359.5" y="594"/><text class="n" x="1359.5" y="612">4*</text></g>
<g id="TT-II-5"><use href="#sB" x="1390" y="594"/><text class="n" x="1390" y="612">5*</text></g>
</g>
<g id="family-UU">
<g id="UU-I-1"><use href="#sW" x="189" y="803"/><use href="#x" x="189" y="803"/><text class="n" x="189" y="821">1</text></g>
<g id="UU-I-2"><use href="#cW" x="235" y="803"/><use href="#x" x="235" y="803"/><text class="n" x="235" y="821">2</text></g>
<g id="UU-II-1s"><use href="#sW" x="50" y="868"/><use href="#x" x="50" y="868"/></g>
<g id="UU-II-1"><use href="#cG" x="99" y="868"/><use href="#x" x="99" y="868"/><text class="n" x="99" y="886">1S</text></g>
<g id="UU-II-2s"><use href="#sW" x="277.5" y="868"/><use href="#x" x="277.5" y="868"/></g>
<g id="UU-II-2"><use href="#cB" x="327" y="868"/><use href="#x" x="327" y="868"/><text class="n" x="327" y="886">2S</text></g>
<g id="UU-III-1"><use href="#sW" x="60" y="931"/><text class="n" x="60" y="949">1*</text></g>
<g id="UU-III-2"><use href="#cB" x="89.5" y="931"/><text class="n" x="89.5" y="949">2*</text></g>
<g id="UU-III-3s"><use href="#sW" x="158" y="931"/></g>
<g id="UU-III-3"><use href="#cB" x="203.5" y="931"/><use href="#x" x="203.5" y="931"/><text class="n" x="203.5" y="949">3S</text></g>
<g id="UU-III-4"><use href="#sB" x="234" y="931"/><text class="n" x="234" y="949">4*</text></g>
<g id="UU-III-4s"><use href="#cW" x="282" y="931"/></g>
<g id="UU-III-5"><use href="#sW" x="314.5" y="931"/><text class="n" x="314.5" y="949">5*</text></g>
<g id="UU-III-6s"><use href="#sW" x="345" y="931"/></g>
<g id="UU-III-6"><use href="#cG" x="396.5" y="931"/><text class="n" x="396.5" y="949">6*</text></g>
<g id="UU-III-7s"><use href="#sW" x="424" y="931"/></g>
<g id="UU-III-7"><use href="#cB" x="472" y="931"/><text class="n" x="472" y="949">7*</text></g>
<g id="UU-III-8"><use href="#cW" x="498" y="931"/><text class="n" x="498" y="949">8*</text></g>
<g id="UU-III-9"><use href="#sB" x="525.5" y="931"/><text class="n" x="525.5" y="949">9*</text></g>
<g id="UU-III-10s"><use href="#sW" x="554" y="931"/></g>
<g id="UU-III-10"><use href="#cG" x="604.5" y="931"/><text class="n" x="604.5" y="949">10*</text></g>
<g id="UU-IV-1"><use href="#sG" x="55" y="996"/><text class="n" x="55" y="1014">1*</text></g>
<g id="UU-IV-2"><use href="#sB" x="84" y="996"/><text class="n" x="84" y="1014">2*</text></g>
<g id="UU-IV-3s"><use href="#sW" x="114" y="996"/><text class="n" x="114" y="1014">*</text></g>
<g id="UU-IV-3"><use href="#cG" x="161" y="996"/><text class="n" x="161" y="1014">3*</text></g>
<g id="UU-IV-4"><use href="#sS" x="188.5" y="996"/><text class="n" x="188.5" y="1014">4*</text></g>
<g id="UU-IV-5"><use href="#sW" x="217" y="996"/><text class="n" x="217" y="1014">5*</text></g>
<g id="UU-IV-6"><use href="#cW" x="244.5" y="996"/><text class="n" x="244.5" y="1014">6*</text></g>
<g id="UU-IV-7"><use href="#sW" x="273" y="996"/><text class="n" x="273" y="1014">7*</text></g>
<g id="UU-IV-8"><use href="#sW" x="302" y="996"/><text class="n" x="302" y="1014">8*</text></g>
<g id="UU-IV-9"><use href="#sG" x="358" y="996"/><text class="n" x="358" y="1014">9*</text></g>
<g id="UU-IV-10"><use href="#sB" x="386.5" y="996"/><text class="n" x="386.5" y="1014">10*</text></g>
<g id="UU-IV-11"><use href="#sW" x="420" y="996"/><text class="n" x="420" y="1014">11*</text></g>
<g id="UU-IV-12s"><use href="#sW" x="449.5" y="996"/><text class="n" x="449.5" y="1014">*</text></g>
<g id="UU-IV-12"><use href="#cB" x="501" y="996"/><text class="n" x="501" y="1014">12*</text></g>
<g id="UU-IV-13"><use href="#cW" x="579" y="996"/><text class="n" x="579" y="1014">13*</text></g>
<g id="UU-V-1"><use href="#sB" x="137" y="1064"/><text class="n" x="137" y="1082">1*</text></g>
<g id="UU-V-2"><use href="#sB" x="463.5" y="1064"/><text class="n" x="463.5" y="1082">2*</text></g>
<g id="UU-V-3"><use href="#cW" x="491.5" y="1064"/><text class="n" x="491.5" y="1082">3*</text></g>
</g>
<g id="family-VV">
<g id="VV-I-1"><use href="#sS" x="696" y="803"/><text class="n" x="696" y="821">1*</text></g>
<g id="VV-I-2"><use href="#cW" x="742" y="803"/><text class="n" x="742" y="821">2*</text></g>
<g id="VV-II-1"><use href="#sB" x="719" y="868"/><text class="n" x="719" y="886">1*</text></g>
</g>
<g id="family-ZZ">
<g id="ZZ-I-1"><use href="#sW" x="814.5" y="803"/><text class="n" x="814.5" y="821">1</text></g>
<g id="ZZ-I-2"><use href="#cB" x="862" y="803"/><text class="n" x="862" y="821">2*</text></g>
<g id="ZZ-II-1"><use href="#sB" x="837.5" y="868"/><text class="n" x="837.5" y="886">1*</text></g>
</g>
</g>
</svg>
